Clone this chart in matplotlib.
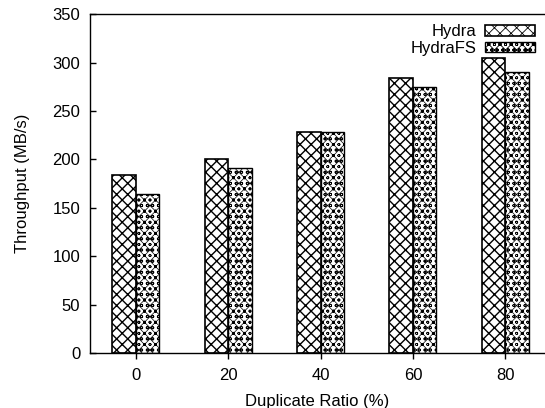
import matplotlib
matplotlib.use("Agg")
import matplotlib.pyplot as plt
import numpy as np

plt.rcParams['font.family'] = ['Liberation Sans', 'DejaVu Sans']

categories = ["0", "20", "40", "60", "80"]
hydra = [184, 200, 228, 284, 305]
hydrafs = [164, 191, 228, 275, 290]
yticks = [0, 50, 100, 150, 200, 250, 300, 350]

fig = plt.figure(figsize=(5.45, 4.08), dpi=100)
ax = fig.add_axes([90/545, 55/408, 1 - 90/545, (353 - 14.3)/408])

x = np.arange(len(categories))
w = 0.255
b1 = ax.bar(x - w/2, hydra, w, facecolor='white', edgecolor='black', hatch='xxx',
            linewidth=1.2, label='Hydra')
b2 = ax.bar(x + w/2, hydrafs, w, facecolor='white', edgecolor='black', hatch='xxxooo',
            linewidth=1.0, label='HydraFS')
for p in b1:
    try:
        p.set_hatch_linewidth(1.0)
    except Exception:
        pass
for p in b2:
    try:
        p.set_hatch_linewidth(0.5)
    except Exception:
        pass

ax.set_xlim(-0.495, 4.43)
ax.set_ylim(0, 350)
ax.set_xticks(x)
ax.set_xticklabels(categories)
ax.set_yticks(yticks)
ax.spines['right'].set_visible(False)
for s in ['left', 'bottom', 'top']:
    ax.spines[s].set_linewidth(1.0)
ax.tick_params(axis='y', direction='in', length=4, labelsize=12, width=1, pad=7)
ax.tick_params(axis='x', direction='out', length=4, labelsize=12, width=1, pad=7)
ax.set_xlabel('Duplicate Ratio (%)', fontsize=12, labelpad=8)
ax.set_ylabel('Throughput (MB/s)', fontsize=12, labelpad=16)

leg = ax.legend(loc='upper right', frameon=False, markerfirst=False, fontsize=12,
                handlelength=3.0, handleheight=0.6, labelspacing=0.1,
                borderaxespad=0.2, handletextpad=0.5)
for h in leg.legend_handles:
    try:
        h.set_hatch_linewidth(0.6)
    except Exception:
        pass

fig.savefig('out.png', dpi=100)
